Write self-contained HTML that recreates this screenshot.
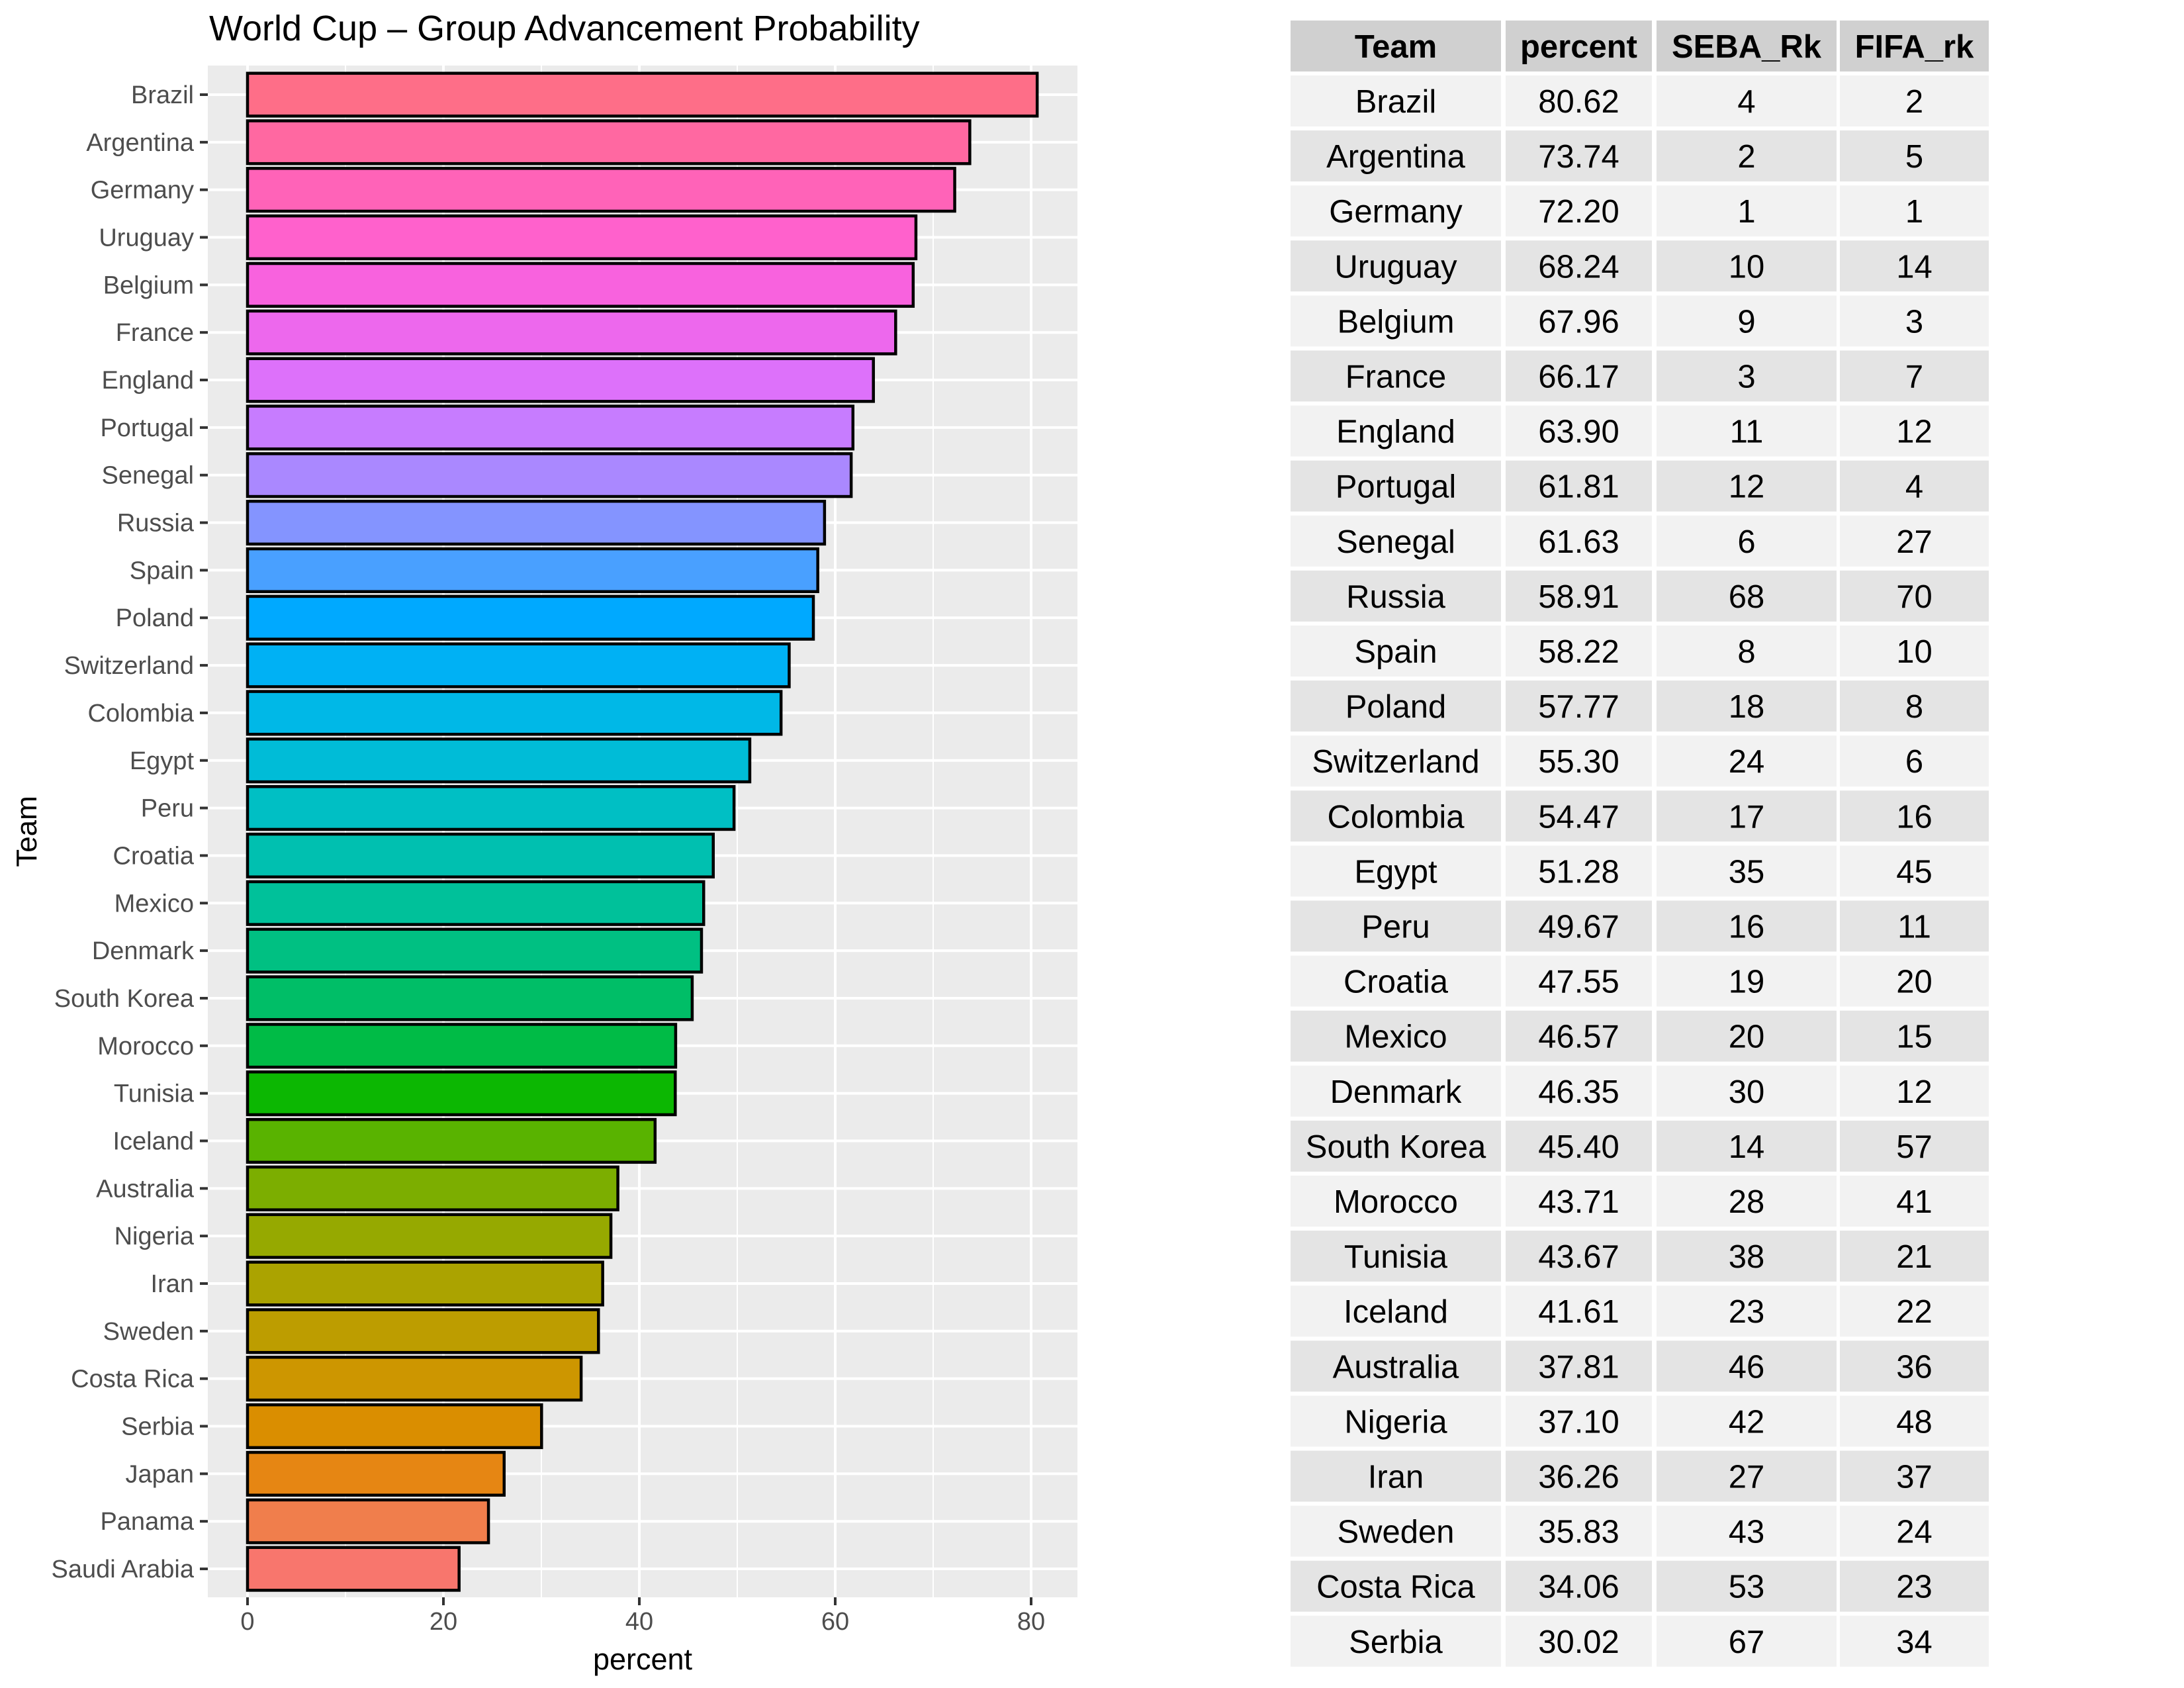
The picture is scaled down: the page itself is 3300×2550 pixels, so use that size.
<!DOCTYPE html>
<html><head><meta charset="utf-8"><style>
html,body{margin:0;padding:0;background:#fff;}
svg{display:block;font-family:"Liberation Sans",sans-serif;}
</style></head><body>
<svg id="svg" width="3300" height="2550" viewBox="0 0 3300 2550" xmlns="http://www.w3.org/2000/svg">
<rect x="0" y="0" width="3300" height="2550" fill="#fff"/>
<text x="316" y="61" font-size="54" fill="#000">World Cup – Group Advancement Probability</text>
<rect x="314" y="99" width="1314" height="2314" fill="#EBEBEB"/>
<g id="grid"></g>
<g id="bars"></g>
<g id="yaxis"></g>
<g id="xaxis"></g>
<text x="971" y="2522" font-size="45" text-anchor="middle" fill="#000">percent</text>
<text x="0" y="0" transform="translate(55,1256) rotate(-90)" font-size="44" text-anchor="middle" fill="#000">Team</text>
<g id="table"></g>
</svg>
<script>
const teams = ["Brazil","Argentina","Germany","Uruguay","Belgium","France","England","Portugal","Senegal","Russia","Spain","Poland","Switzerland","Colombia","Egypt","Peru","Croatia","Mexico","Denmark","South Korea","Morocco","Tunisia","Iceland","Australia","Nigeria","Iran","Sweden","Costa Rica","Serbia","Japan","Panama","Saudi Arabia"];
const percents = [80.62,73.74,72.20,68.24,67.96,66.17,63.90,61.81,61.63,58.91,58.22,57.77,55.30,54.47,51.28,49.67,47.55,46.57,46.35,45.40,43.71,43.67,41.61,37.81,37.10,36.26,35.83,34.06,30.02,26.2,24.6,21.6];
const xTicks = [0,20,40,60,80];
const xMinor = [10,30,50,70];
const tableTeams = teams.slice(0,29);
const tablePercent = ["80.62","73.74","72.20","68.24","67.96","66.17","63.90","61.81","61.63","58.91","58.22","57.77","55.30","54.47","51.28","49.67","47.55","46.57","46.35","45.40","43.71","43.67","41.61","37.81","37.10","36.26","35.83","34.06","30.02"];
const sebaRk = [4,2,1,10,9,3,11,12,6,68,8,18,24,17,35,16,19,20,30,14,28,38,23,46,42,27,43,53,67];
const fifaRk = [2,5,1,14,3,7,12,4,27,70,10,8,6,16,45,11,20,15,12,57,41,21,22,36,48,37,24,23,34];

const NS="http://www.w3.org/2000/svg";
const x0=374, unit=14.8;
const xs=v=>x0+v*unit;
const yTop=143, pitch=71.84;
const ys=i=>yTop+i*pitch;
function mk(tag,attrs,parent){const e=document.createElementNS(NS,tag);for(const k in attrs)e.setAttribute(k,attrs[k]);parent.appendChild(e);return e;}
function hcl(h){const L=65,C=100;const hr=h*Math.PI/180;const U=C*Math.cos(hr),V=C*Math.sin(hr);
const Xn=95.047,Yn=100,Zn=108.883;const den=Xn+15*Yn+3*Zn;const un=4*Xn/den,vn=9*Yn/den;
const Y=Yn*Math.pow((L+16)/116,3);const u=U/(13*L)+un,v=V/(13*L)+vn;
const X=9*Y*u/(4*v);const Z=-X/3-5*Y+3*Y/v;
const x=X/100,y=Y/100,z=Z/100;
let r=3.240479*x-1.537150*y-0.498535*z,g=-0.969256*x+1.875992*y+0.041556*z,b=0.055648*x-0.204043*y+1.057311*z;
const gam=c=>{c=c<=0.0031308?12.92*c:1.055*Math.pow(c,1/2.4)-0.055;return Math.round(Math.max(0,Math.min(1,c))*255);};
return `rgb(${gam(r)},${gam(g)},${gam(b)})`;}

const grid=document.getElementById('grid');
xMinor.forEach(v=>{const l=mk('line',{x1:xs(v),x2:xs(v),y1:99,y2:2413,stroke:'#fff','stroke-width':2},grid);
});
xTicks.forEach(v=>{const l=mk('line',{x1:xs(v),x2:xs(v),y1:99,y2:2413,stroke:'#fff','stroke-width':4},grid);
});
teams.forEach((t,i)=>{const l=mk('line',{x1:314,x2:1628,y1:ys(i),y2:ys(i),stroke:'#fff','stroke-width':4},grid);
});

const bars=document.getElementById('bars');const n=teams.length;const bh=pitch*0.9;
teams.forEach((t,i)=>{const hue=15+360*(n-1-i)/n;
const r=mk('rect',{x:xs(0),y:ys(i)-bh/2,width:xs(percents[i])-xs(0),height:bh,fill:hcl(hue),stroke:'#000','stroke-width':4.5},bars);
});

const ya=document.getElementById('yaxis');
teams.forEach((t,i)=>{const tk=mk('line',{x1:302,x2:314,y1:ys(i),y2:ys(i),stroke:'#333','stroke-width':4},ya);

const tx=mk('text',{x:293,y:ys(i)+13,'font-size':38,'text-anchor':'end',fill:'#4D4D4D'},ya);tx.textContent=t;
});

const xa=document.getElementById('xaxis');
xTicks.forEach(v=>{const tk=mk('line',{x1:xs(v),x2:xs(v),y1:2413,y2:2425,stroke:'#333','stroke-width':4},xa);

const tx=mk('text',{x:xs(v),y:2462,'font-size':38,'text-anchor':'middle',fill:'#4D4D4D'},xa);tx.textContent=v;
});

const tb=document.getElementById('table');
const cols=[[1950,2268],[2275,2496],[2503,2775],[2780,3005]];
const heads=["Team","percent","SEBA_Rk","FIFA_rk"];
heads.forEach((h,c)=>{const r=mk('rect',{x:cols[c][0],y:31,width:cols[c][1]-cols[c][0],height:77,fill:'#D0D0D0'},tb);

const tx=mk('text',{x:(cols[c][0]+cols[c][1])/2,y:87,'font-size':49,'font-weight':'bold','text-anchor':'middle',fill:'#000'},tb);tx.textContent=h;
});
tableTeams.forEach((t,i)=>{const top=114+i*83.1;const vals=[t,tablePercent[i],sebaRk[i],fifaRk[i]];
vals.forEach((v,c)=>{const r=mk('rect',{x:cols[c][0],y:top,width:cols[c][1]-cols[c][0],height:77,fill:i%2?'#E4E4E4':'#F2F2F2'},tb);

const tx=mk('text',{x:(cols[c][0]+cols[c][1])/2,y:top+56,'font-size':49,'text-anchor':'middle',fill:'#000'},tb);tx.textContent=v;
});});
</script>
</body></html>
